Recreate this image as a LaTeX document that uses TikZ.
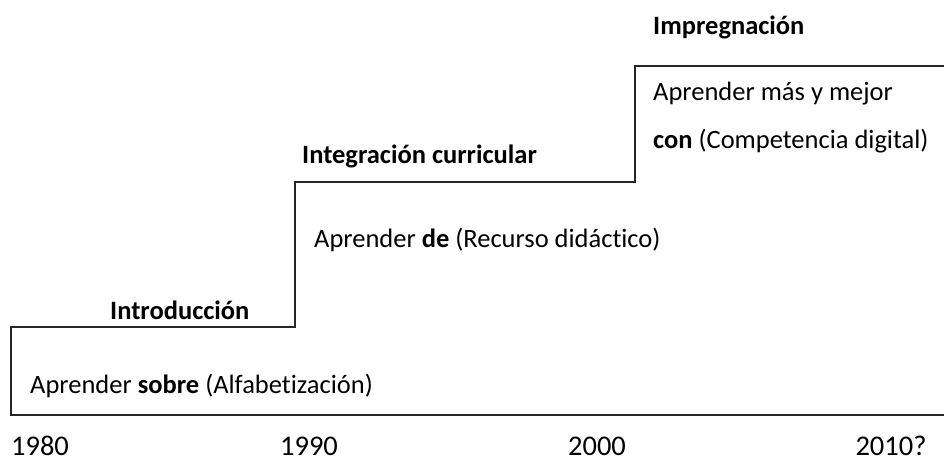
\documentclass[tikz,border=0pt]{standalone}
\usepackage{fontspec}
\setmainfont[Ligatures=NoCommon]{Carlito}
\tikzset{
  stage/.style={anchor=base west,inner sep=0pt,font=\fontsize{26.5}{32}\selectfont\bfseries},
  idea/.style={anchor=base west,inner sep=0pt,font=\fontsize{26.5}{32}\selectfont},
  year/.style={anchor=base,inner sep=0pt,font=\fontsize{28.5}{34}\selectfont}
}
\begin{document}
\begin{tikzpicture}[x=1pt,y=1pt]
		\useasboundingbox (0,0) rectangle (944,459);
		\draw[line width=2pt,color=black!85] (944,44)--(11,44)--(11,132)--(295,132)--(295,277)--(635,277)--(635,393)--(944,393);
		\node[stage] (intro) at (110,140) {Introducción};
		\node[idea] (sobre) at (30,66) {Aprender \textbf{sobre} (Alfabetización)};
		\node[stage] (integ) at (302,296) {Integración curricular};
		\node[idea] (de) at (314,212) {Aprender \textbf{de} (Recurso didáctico)};
		\node[stage] (impreg) at (653,424) {Impregnación};
		\node[idea] (mas) at (653,359) {Aprender más y mejor};
		\node[idea] (con) at (653,311) {\textbf{con} (Competencia digital)};
		\node[year] (y80) at (40,4) {1980};
		\node[year] (y90) at (309,4) {1990};
		\node[year] (y00) at (597,4) {2000};
		\node[year] (y10) at (891,4) {2010?};
\end{tikzpicture}
\end{document}
